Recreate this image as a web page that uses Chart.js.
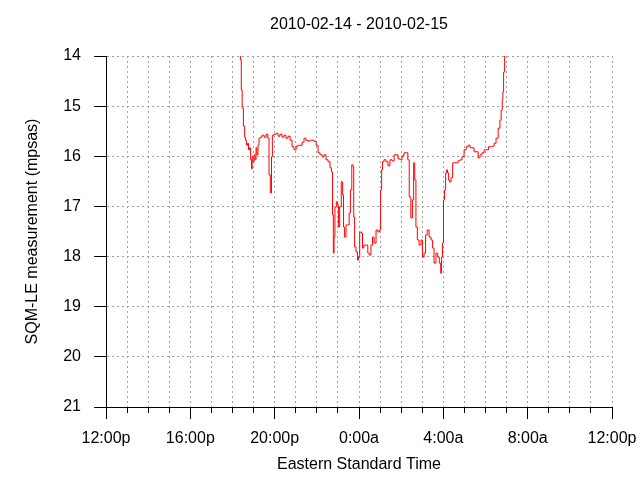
<!DOCTYPE html>
<html><head><meta charset="utf-8">
<script src="https://cdn.jsdelivr.net/npm/chart.js@4"></script>
<style>html,body{margin:0;padding:0;background:#fff}</style>
</head><body>
<canvas id="c" width="640" height="480"></canvas>
<script>
const titleText = '2010-02-14 - 2010-02-15';
const xTitle = 'Eastern Standard Time';
const yTitle = 'SQM-LE measurement (mpsas)';
const xTickLabels = ['12:00p','16:00p','20:00p','0:00a','4:00a','8:00a','12:00p'];
// minutes since 12:00p on 2010-02-14
const minutes = [381,384,386,389,393,396,398,401,404,407,410,413,415,417,420,423,426,428,431,434,437,441,447,453,458,463,465,470,472,475,481,487,492,498,504,509,515,521,527,532,538,544,549,555,561,566,572,578,583,589,595,601,606,612,618,623,629,635,640,643,646,648,650,653,658,660,663,667,672,675,677,680,686,690,694,697,702,704,706,709,714,717,720,724,729,731,737,743,747,751,757,760,766,771,776,780,783,786,788,794,800,805,811,817,823,828,834,840,845,851,857,861,865,870,874,877,880,884,888,894,899,902,908,911,917,922,928,931,936,942,946,951,954,956,959,962,965,968,971,973,976,979,985,988,993,999,1005,1010,1016,1022,1028,1033,1039,1045,1050,1056,1062,1067,1073,1079,1084,1093,1102,1107,1113,1119,1123,1126,1129,1130,1133,1136,1137];
const mpsas = [13.68,14.08,14.68,15.04,15.40,15.62,15.68,15.78,15.74,15.87,15.83,16.07,16.25,16.01,16.11,15.97,16.07,15.83,15.97,15.78,15.64,15.62,15.58,15.62,15.56,15.64,16.37,16.73,16.01,15.58,15.56,15.54,15.60,15.56,15.62,15.58,15.64,15.60,15.68,15.81,15.87,15.80,15.78,15.78,15.72,15.64,15.68,15.70,15.68,15.68,15.70,15.78,15.93,15.97,16.01,15.97,16.07,16.11,16.23,16.31,17.17,17.93,17.61,17.01,16.91,16.97,17.41,17.01,16.51,16.77,17.41,17.61,17.37,17.37,17.13,16.67,16.17,16.21,17.21,17.81,17.91,18.07,18.01,17.51,17.53,17.83,17.77,17.77,17.93,17.97,17.77,17.61,17.73,17.47,17.51,17.47,16.67,16.27,16.11,16.07,16.11,16.19,16.07,16.09,15.97,15.97,16.05,16.07,15.99,15.93,15.93,16.07,16.81,17.23,16.87,16.13,16.47,17.41,17.67,17.77,17.67,18.01,17.93,17.57,17.47,17.61,17.67,17.83,18.13,17.93,18.01,18.13,18.33,18.01,17.73,16.87,16.67,16.33,16.27,16.33,16.47,16.51,16.43,16.13,16.13,16.13,16.09,16.07,16.01,15.87,15.81,15.78,15.83,15.83,15.91,15.91,16.03,15.97,15.93,15.87,15.87,15.81,15.80,15.74,15.64,15.44,15.28,15.08,14.88,14.72,14.32,14.00,13.68];

const FONT = {family: '"Liberation Sans", Arial, sans-serif', size: 16};
const GRID_COLOR = '#a0a0a0';

const minorTicks = {
  id: 'minorTicks',
  afterDraw(chart) {
    const xs = chart.scales.x, ctx = chart.ctx;
    ctx.save();
    ctx.strokeStyle = '#000';
    ctx.lineWidth = 1;
    for (let v = xs.min; v <= xs.max; v += 60) {
      if (v % 240 === 0) continue;
      const px = Math.round(xs.getPixelForValue(v) - 0.5) + 0.5;
      ctx.beginPath();
      ctx.moveTo(px, xs.top);
      ctx.lineTo(px, xs.top + 6);
      ctx.stroke();
    }
    ctx.restore();
  }
};

new Chart(document.getElementById('c'), {
  type: 'line',
  data: {
    datasets: [{
      data: minutes.map((m, i) => ({x: m, y: mpsas[i]})),
      borderColor: '#ff0000',
      borderWidth: 1,
      pointRadius: 0,
      tension: 0,
      stepped: 'middle',
      fill: false
    }]
  },
  options: {
    responsive: false,
    animation: false,
    layout: {padding: {left: 0, right: 28, top: 0, bottom: 0}},
    plugins: {
      legend: {display: false},
      tooltip: {enabled: false},
      title: {
        display: true, text: titleText, fullSize: false,
        color: '#000', font: {...FONT, weight: 'normal'},
        padding: {top: 15, bottom: 21.8}
      }
    },
    scales: {
      x: {
        type: 'linear', min: 0, max: 1440,
        afterFit(s) { s.height = 73; s.paddingLeft = 0; s.paddingRight = 0; },
        ticks: {
          stepSize: 60, autoSkip: false, maxRotation: 0, padding: 10,
          color: '#000', font: FONT,
          callback: v => (v % 240 === 0 ? xTickLabels[v / 240] : '')
        },
        grid: {
          color: GRID_COLOR, lineWidth: 1, tickLength: 12,
          tickColor: c => (c.tick && c.tick.value % 240 === 0 ? '#000' : 'rgba(0,0,0,0)')
        },
        border: {display: true, color: '#000', width: 1, dash: [2, 3]},
        title: {display: true, text: xTitle, color: '#000', font: FONT, padding: {top: 0, bottom: 5.4}}
      },
      y: {
        type: 'linear', min: 14, max: 21, reverse: true,
        afterFit(s) { s.width = 106; s.paddingTop = 0; s.paddingBottom = 0; },
        ticks: {stepSize: 1, color: '#000', font: FONT, padding: 13},
        grid: {color: GRID_COLOR, lineWidth: 1, tickLength: 12, tickColor: '#000'},
        border: {display: true, color: '#000', width: 1, dash: [2, 3]},
        title: {display: true, text: yTitle, color: '#000', font: FONT, padding: {top: 23.4, bottom: 0}}
      }
    }
  },
  plugins: [minorTicks]
});
</script>
</body></html>
